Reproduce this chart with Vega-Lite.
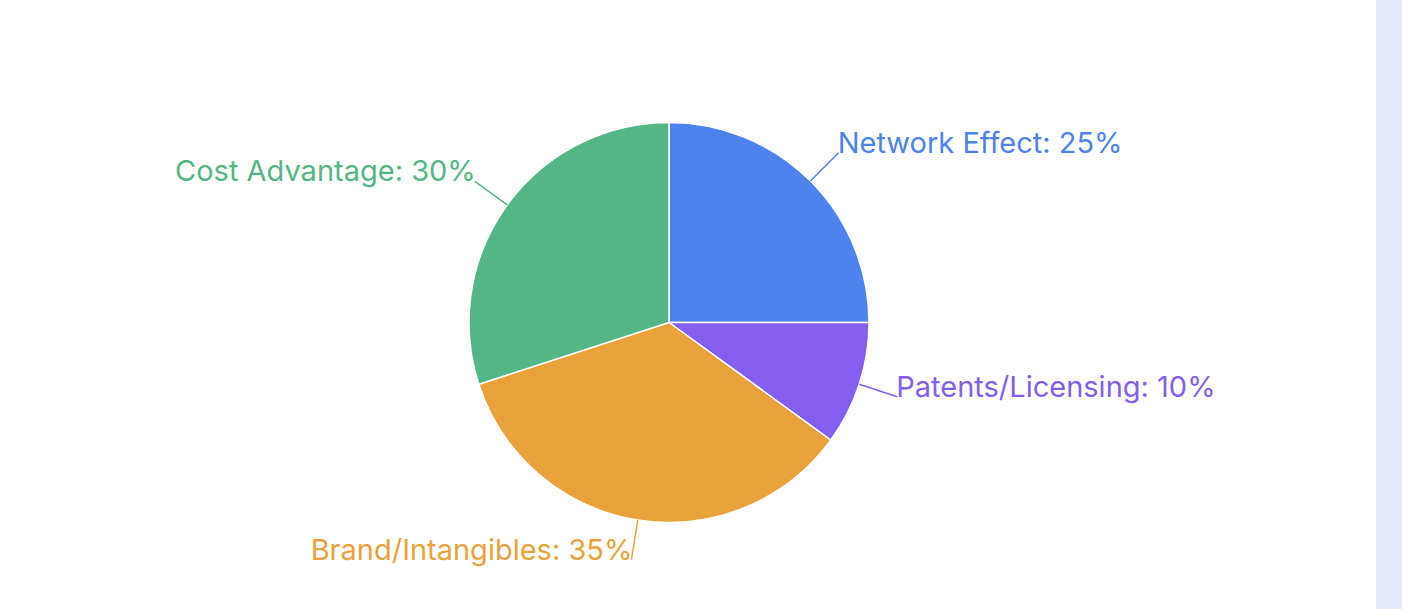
{
  "$schema": "https://vega.github.io/schema/vega-lite/v6.json",
  "padding": 0,
  "spacing": 38,
  "background": "white",
  "config": {"view": {"stroke": null}, "text": {"font": "Inter"}},
  "data": {"values": [
    {"category": "Network Effect", "value": 25, "rank": 1, "label": "Network Effect: 25%"},
    {"category": "Patents/Licensing", "value": 10, "rank": 2, "label": "Patents/Licensing: 10%"},
    {"category": "Brand/Intangibles", "value": 35, "rank": 3, "label": "Brand/Intangibles: 35%"},
    {"category": "Cost Advantage", "value": 30, "rank": 4, "label": "Cost Advantage: 30%"}
  ]},
  "hconcat": [
    {
      "width": 1338,
      "height": 609,
      "encoding": {
        "theta": {"field": "value", "type": "quantitative", "stack": true},
        "order": {"field": "rank", "type": "quantitative"},
        "color": {
          "field": "category",
          "type": "nominal",
          "scale": {
            "domain": ["Network Effect", "Patents/Licensing", "Brand/Intangibles", "Cost Advantage"],
            "range": ["#4E82EC", "#845EEE", "#E9A23B", "#55B685"]
          },
          "legend": null
        }
      },
      "layer": [
        {"mark": {"type": "arc", "radius": 200, "stroke": "white", "strokeWidth": 1.5, "yOffset": 18}},
        {"mark": {"type": "arc", "radius": 240, "radius2": 200, "padAngle": 3.14, "filled": false, "strokeWidth": 1.5, "yOffset": 18}},
        {
          "mark": {
            "type": "text",
            "radius": 240,
            "align": {"expr": "datum.rank <= 2 ? 'left' : 'right'"},
            "baseline": "alphabetic",
            "dx": {"expr": "datum.rank <= 2 ? -1 : 1"},
            "fontSize": 29,
            "yOffset": 18
          },
          "encoding": {"text": {"field": "label"}}
        }
      ]
    },
    {
      "width": 26,
      "height": 609,
      "view": {"fill": "#E4E9FB", "stroke": null},
      "mark": {"type": "rect", "opacity": 0},
      "encoding": {}
    }
  ]
}
